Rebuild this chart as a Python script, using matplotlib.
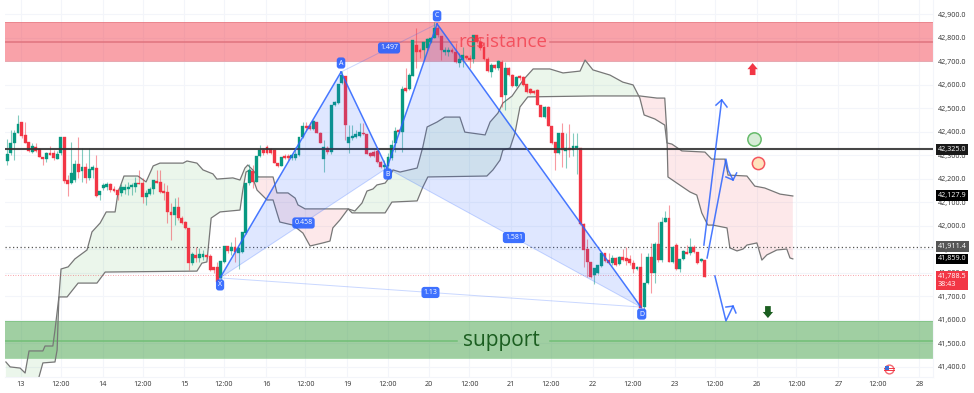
import matplotlib
matplotlib.use("Agg")
import matplotlib.pyplot as plt
import numpy as np

# ---------- candles (hourly bars, price) ----------
opens = [42276,42310,42353,42395,42442,42387,42357,42314,42336,42327,42293,42285,42310,42310,42285,42310,42378,42195,42182,42195,
 42263,42234,42251,42204,42238,42246,42131,42161,42165,42178,42157,42153,42140,42153,42157,42165,42165,42182,42182,42123,
 42136,42157,42191,42187,42148,42144,42059,42046,42080,42033,42016,41991,41842,41876,41863,41867,41876,41871,41825,41825,
 41778,41846,41914,41893,41910,41884,41888,41969,42182,42234,42187,42297,42323,42336,42327,42323,42268,42255,42297,42297,
 42289,42289,42302,42378,42425,42425,42413,42442,42395,42285,42332,42314,42515,42523,42608,42638,42353,42374,42378,42383,
 42395,42391,42310,42314,42319,42272,42251,42255,42289,42353,42408,42400,42587,42583,42638,42770,42749,42749,42758,42783,
 42800,42843,42809,42740,42740,42749,42740,42694,42706,42723,42715,42711,42813,42783,42762,42711,42655,42685,42672,42698,
 42557,42672,42643,42596,42638,42634,42604,42583,42574,42579,42515,42464,42506,42425,42357,42310,42395,42319,42332,42323,
 42332,42332,42008,41901,41846,41790,41799,41829,41884,41854,41842,41863,41837,41867,41863,41859,41842,41816,41825,41654,
 41756,41867,41799,41923,41854,42016,42033,41846,41918,41816,41859,41888,41884,41910,41888,41850,41854]
closes = [42306,42353,42395,42434,42383,42353,42319,42340,42319,42293,42285,42310,42302,42289,42306,42378,42191,42178,42225,42263,
 42229,42251,42204,42242,42251,42127,42148,42174,42178,42153,42148,42131,42165,42165,42165,42174,42182,42178,42123,42140,
 42157,42195,42182,42144,42140,42059,42046,42080,42033,42012,41991,41842,41880,41863,41880,41880,41867,41812,41812,41761,
 41850,41914,41893,41910,41888,41906,41974,42182,42238,42187,42297,42323,42310,42310,42310,42268,42255,42293,42289,42289,
 42302,42306,42378,42425,42417,42413,42446,42395,42353,42336,42314,42515,42527,42604,42643,42430,42378,42383,42391,42400,
 42391,42306,42297,42297,42272,42251,42259,42293,42344,42404,42400,42583,42574,42643,42792,42740,42740,42783,42796,42800,
 42843,42813,42749,42749,42749,42740,42698,42711,42728,42715,42706,42813,42783,42758,42711,42660,42685,42672,42702,42549,
 42672,42643,42596,42634,42630,42600,42570,42566,42566,42515,42464,42506,42425,42353,42310,42395,42323,42332,42323,42340,
 42340,42008,41897,41846,41782,41820,41833,41884,41850,41842,41863,41833,41867,41854,41850,41842,41816,41825,41650,41756,
 41867,41799,41923,41854,42016,42033,41846,41910,41816,41859,41893,41880,41910,41888,41842,41859,41782]
highs = [42370,42408,42408,42472,42442,42442,42357,42353,42353,42332,42293,42314,42340,42323,42319,42378,42378,42217,42357,42280,
 42378,42332,42268,42332,42259,42302,42148,42182,42187,42182,42170,42161,42178,42178,42187,42182,42208,42238,42204,42153,
 42165,42195,42238,42238,42182,42174,42097,42119,42123,42042,42020,41991,41888,41910,41906,41897,41880,41880,41825,41846,
 41850,41914,41914,41931,41952,41906,41974,42182,42263,42259,42297,42344,42332,42344,42332,42323,42268,42293,42306,42306,
 42306,42336,42378,42442,42442,42442,42451,42442,42400,42366,42340,42515,42530,42604,42660,42638,42430,42430,42408,42438,
 42438,42391,42314,42323,42336,42276,42280,42310,42366,42421,42412,42596,42672,42650,42792,42843,42758,42783,42800,42805,
 42868,42855,42809,42762,42762,42758,42779,42736,42762,42728,42728,42813,42813,42805,42783,42720,42694,42690,42706,42706,
 42698,42677,42647,42638,42643,42638,42604,42587,42578,42583,42515,42510,42510,42425,42357,42395,42438,42395,42434,42395,
 42395,42332,42012,41944,41846,41820,41833,41888,41884,41884,41876,41867,41871,41901,41910,41876,41854,41829,41884,41756,
 41884,41927,41931,42016,42038,42063,42089,41914,41927,41859,41897,41918,41948,41918,41888,41863,41854]
lows = [42259,42302,42280,42395,42374,42353,42314,42310,42314,42293,42259,42272,42302,42280,42285,42302,42182,42127,42178,42187,
 42204,42187,42182,42195,42204,42123,42110,42153,42153,42144,42144,42110,42127,42136,42131,42131,42144,42178,42097,42089,
 42131,42136,42182,42140,42110,42012,41940,42004,42025,42008,41987,41812,41833,41846,41846,41854,41863,41808,41799,41757,
 41769,41842,41884,41876,41846,41816,41884,41965,42174,42160,42187,42293,42302,42306,42306,42268,42250,42255,42285,42280,
 42280,42280,42297,42374,42408,42408,42408,42395,42353,42229,42306,42306,42510,42520,42604,42366,42310,42366,42374,42378,
 42387,42306,42293,42293,42268,42246,42229,42229,42280,42314,42396,42314,42570,42580,42636,42672,42715,42706,42749,42780,
 42800,42805,42706,42728,42724,42736,42694,42677,42677,42711,42672,42694,42780,42749,42706,42655,42634,42668,42664,42506,
 42493,42640,42592,42592,42621,42596,42566,42562,42562,42515,42464,42460,42425,42349,42238,42306,42251,42246,42293,42297,
 42221,42004,41825,41782,41778,41752,41795,41825,41846,41837,41833,41829,41833,41850,41833,41833,41799,41812,41650,41642,
 41752,41714,41756,41846,41846,42016,41846,41842,41812,41803,41855,41880,41876,41884,41838,41846,41782]

# ---------- cloud ----------
line1_x = [-0.4,.8,3.6,5,6.1,10,10.6,12.8,13.4,14.5,15.1,17.1,19,22.4,23.8,26.1,27.8,30.3,31.1,32.8,36.7,39,41,42.9,49.4,50.5,53.3,55,57.8,58.9,
 63.4,65.4,66.8,67.6,69,70.5,74.7,75.8,78.9,80.9,81.7,83.7,95.8,96.9,106.2,108.1,115.2,116.8,118.2,134.8,136.5,138.5,139.3,141.3,142.7,144.1,146.3,
 164.6,177.8,182.6,184.8,185.4,185.7,188.2,191.9,193.8,195.2,196.9,198.3,202.3,203.1,205.1,206.8,207.9,210.7,212.1,213.5,216.3,219.1,220,220.8]
line1_y = [41420,41399,41394,41373,41467,41467,41488,41488,41556,41697,41816,41825,41859,41897,41974,42012,42059,42059,42140,42212,42212,42187,42255,42267,42267,42276,42267,42238,42221,42199,
 42204,42195,42246,42259,42238,42208,42208,42140,42140,42118,42089,42072,42072,42055,42055,42101,42106,42165,42208,42212,42238,42280,42323,42331,42395,42506,42549,
 42553,42553,42544,42544,42395,42208,42182,42144,42131,42055,42003,42003,41991,41906,41893,41901,41918,41927,41854,41876,41897,41901,41863,41859]
line2_x = [-0.4,8,8.9,10,13.4,14,14.5,16.8,19.9,25.2,27.5,53.3,54.7,56.1,57.3,59.8,65.4,66.2,67.1,68.2,70.2,73,74.7,75.8,76.6,80.3,83.1,85.1,88.7,90.7,91.5,93.5,95.8,
 97.7,99.7,101.1,102.8,103.9,106.2,107.3,108.4,110.4,115.2,116.8,118,120.8,123,127.2,128.6,134.3,135.7,137.9,139.3,141.9,145,147.8,152.5,156.2,161,162.4,164.6,169.4,173,175.9,177.8,
 179,182,184.8,185.4,186.8,189.6,196.1,198,201.7,202.6,207.9,210.1,212.9,217.2,220.8]
line2_y = [41258,41258,41356,41416,41420,41471,41697,41697,41756,41756,41803,41807,41841,41846,42033,42059,42067,42152,42229,42238,42152,42110,42110,42055,42016,42003,41969,41914,41927,41935,41991,42025,42072,
 42063,42097,42148,42157,42174,42182,42204,42238,42229,42246,42336,42421,42442,42463,42463,42399,42387,42442,42480,42523,42553,42621,42668,42668,42651,42659,42706,42664,42642,42612,42600,42544,
 42472,42455,42429,42353,42348,42319,42314,42284,42284,42216,42212,42169,42161,42135,42127]
cloud_spans = [(-0.65, 67.8, "#4caf50"), (67.8, 95.8, "#f23645"), (95.8, 177.8, "#4caf50"), (177.8, 220.8, "#f23645")]

# ---------- harmonic pattern ----------
pat_names = ["X", "A", "B", "C", "D"]
pat_x = [59.8, 93.8, 106.7, 120.8, 178.1]
pat_y = [41778, 42655, 42246, 42860, 41654]
ratios = {("A", "C"): "1.497", ("X", "B"): "0.458", ("B", "D"): "1.581", ("X", "D"): "1.13"}

# ---------- levels ----------
res_zone = (42702, 42866, 42784)
sup_zone = (41435, 41595, 41510)
hline_price = 42325.0
dotted_price = 41911.4
last_price = 41788.5
tag_prices = [(42325.0, "#1a1a1a"), (42127.9, "#000000"), (41911.4, "#555555"), (41859.0, "#000000")]

# ---------- hand-drawn arrows ----------
arrows = [
    ([195.8, 200.8], [41918, 42536], [199.2, 200.8, 202.3], [42514, 42536, 42506]),
    ([196.7, 202, 202.6, 204], [41863, 42284, 42238, 42195], [202, 204, 205], [42208, 42195, 42225]),
    ([198.9, 202, 204], [41786, 41595, 41658], [202, 204, 204.8], [41654, 41658, 41629]),
]

# ---------- axes labels ----------
y_ticks = list(range(41400, 43000, 100))
x_tick_pos = [3.8,15.1,26.8,38.1,49.8,60.8,72.8,83.8,95.6,107,118.6,129.8,141.6,152.8,164.6,175.8,187.6,198.8,210.6,221.8,233.6,244.6,256.4]
x_tick_lab = ["13","12:00","14","12:00","15","12:00","16","12:00","19","12:00","20","12:00","21","12:00","22","12:00","23","12:00","26","12:00","27","12:00","28"]

GREEN, RED, BLUE = "#089981", "#f23645", "#2962ff"
plt.rcParams["font.family"] = ["Open Sans", "DejaVu Sans"]

fig = plt.figure(figsize=(9.74, 3.93), dpi=100)
ax = fig.add_axes([5/974, 1-377/393, 928/974, 377/393])
ax.set_xlim(-0.65, 260.2)
ax.set_ylim(41356, 42961.7)

# grid
ax.set_xticks(x_tick_pos)
ax.set_xticklabels(x_tick_lab)
ax.set_yticks(y_ticks)
ax.set_yticklabels([f"{v:,.1f}" for v in y_ticks])
ax.yaxis.tick_right()
ax.tick_params(axis="both", length=0, labelsize=5.2, labelcolor="#333333")
ax.tick_params(axis="x", pad=3)
ax.tick_params(axis="y", pad=3.5)
ax.grid(True, color="#f3f5fa", lw=0.8, zorder=0)
ax.set_axisbelow(True)
for s in ["top", "left"]:
    ax.spines[s].set_visible(False)
for s in ["right", "bottom"]:
    ax.spines[s].set_color("#f3f5fa")
    ax.spines[s].set_linewidth(0.8)

# zones
for (lo, hi, mid), col, mcol, al in [(res_zone, RED, "#e0747e", 0.46), (sup_zone, "#43a047", "#72bf76", 0.5)]:
    ax.axhspan(lo, hi, facecolor=col, alpha=al, lw=0, zorder=1)
    ax.plot([-0.65, 126.5], [mid, mid], color=mcol, lw=1.1, zorder=1.1)
    ax.plot([152.5, 260.2], [mid, mid], color=mcol, lw=1.1, zorder=1.1)
    ax.plot([-0.65, 260.2], [hi, hi], color=mcol, lw=0.7, alpha=0.6, zorder=1.1)
    ax.plot([-0.65, 260.2], [lo, lo], color=mcol, lw=0.7, alpha=0.6, zorder=1.1)

# cloud
xs = np.union1d(line1_x, line2_x)
y1 = np.interp(xs, line1_x, line1_y)
y2 = np.interp(xs, line2_x, line2_y)
for a, b, col in cloud_spans:
    ax.fill_between(xs, y1, y2, where=(xs >= a) & (xs <= b), facecolor=col, alpha=0.11, lw=0, zorder=1.5)
ax.plot(line1_x, line1_y, color="#777777", lw=0.9, zorder=2)
ax.plot(line2_x, line2_y, color="#777777", lw=0.9, zorder=2)

# price lines
ax.axhline(hline_price, color="#333333", lw=1.5, alpha=0.9, zorder=3.5)
ax.axhline(dotted_price, color="#555555", lw=0.9, ls=(0, (1, 2)), zorder=2)
ax.axhline(last_price, color=RED, lw=0.6, ls=(0, (1, 2)), alpha=0.6, zorder=2)

# candles
idx = np.arange(len(opens))
o, c, h, l = map(np.array, (opens, closes, highs, lows))
cols = np.where(c >= o, GREEN, RED)
ax.vlines(idx, l, h, colors=cols, lw=0.8, alpha=0.5, zorder=3)
ax.bar(idx, np.abs(c - o), bottom=np.minimum(o, c), width=0.82, color=cols, edgecolor=cols, lw=0.25, zorder=3.2)

# harmonic pattern
P = dict(zip(pat_names, zip(pat_x, pat_y)))
for tri in (("X", "A", "B"), ("B", "C", "D")):
    ax.fill([P[n][0] for n in tri], [P[n][1] for n in tri], color=BLUE, alpha=0.15, lw=0, zorder=3.6)
for a, b in zip(pat_names[:-1], pat_names[1:]):
    ax.plot([P[a][0], P[b][0]], [P[a][1], P[b][1]], color=BLUE, lw=1.1, alpha=0.85, zorder=4)
box = dict(boxstyle="round,pad=0.3,rounding_size=0.4", fc=BLUE, ec="none", alpha=0.9)
for (a, b), txt in ratios.items():
    ax.plot([P[a][0], P[b][0]], [P[a][1], P[b][1]], color=BLUE, lw=0.7, alpha=0.25, zorder=3.7)
    ax.text((P[a][0]+P[b][0])/2, (P[a][1]+P[b][1])/2, txt, color="white", fontsize=5, ha="center", va="center", bbox=box, zorder=6)
offs = {"X": -7, "A": 9, "B": -6, "C": 8, "D": -7}
for n in pat_names:
    ax.annotate(n, P[n], xytext=(0.8 if n in "BD" else 0, offs[n]), textcoords="offset pixels", color="white", fontsize=5,
                ha="center", va="center", bbox=box, zorder=6)

# texts
ax.text(139.3, res_zone[2], "resistance", color=RED, alpha=0.75, fontsize=13.5, ha="center", va="center", zorder=5)
ax.text(138.8, sup_zone[2], "support", color="#1b5e20", fontsize=15, ha="center", va="center", zorder=5)

# arrows
for xl, yl, hx, hy in arrows:
    ax.plot(xl, yl, color=BLUE, lw=1.1, alpha=0.85, zorder=5)
    ax.plot(hx, hy, color=BLUE, lw=1.1, alpha=0.85, zorder=5)
ax.arrow(209.5, 42642, 0, 51, width=1.6, head_width=2.9, head_length=26, length_includes_head=True, color=RED, lw=0, zorder=5)
ax.arrow(213.8, 41658, 0, -51, width=1.6, head_width=2.9, head_length=26, length_includes_head=True, color="#1b5e20", lw=0, zorder=5)

# circles
ax.scatter([209.9], [42370], s=92, facecolor="#d6ecd6", edgecolor="#66bb6a", lw=1.1, zorder=5)
ax.scatter([210.9], [42267], s=78, facecolor="#ffe3bd", edgecolor="#f4555f", lw=1.1, zorder=5)

# flag
ax.scatter([247.8], [41390], s=40, facecolor="white", edgecolor="#f26a72", lw=1.0, zorder=5)
ax.plot([246.3, 249.3], [41396, 41396], color="#f23645", lw=0.7, zorder=5.1)
ax.plot([246.3, 249.3], [41384, 41384], color="#f23645", lw=0.7, zorder=5.1)
ax.scatter([247.2], [41393], s=9, marker="s", color="#3b6fd8", lw=0, zorder=5.2)

# price tags
ytr = ax.get_yaxis_transform()
for price, col in tag_prices:
    ax.annotate(f"{price:,.1f}", (1, price), xycoords=ytr, xytext=(5, 0), textcoords="offset pixels",
                color="white", fontsize=5.2, ha="left", va="center", zorder=10, annotation_clip=False,
                bbox=dict(boxstyle="square,pad=0.25", fc=col, ec="none"))
ax.annotate(f"{last_price:,.1f}\n38:43", (1, last_price), xycoords=ytr, xytext=(5, -5), textcoords="offset pixels",
            color="white", fontsize=5.2, ha="left", va="center", zorder=10, annotation_clip=False, linespacing=1.1,
            bbox=dict(boxstyle="square,pad=0.25", fc=RED, ec="none"))

fig.savefig("out.png", dpi=100)
